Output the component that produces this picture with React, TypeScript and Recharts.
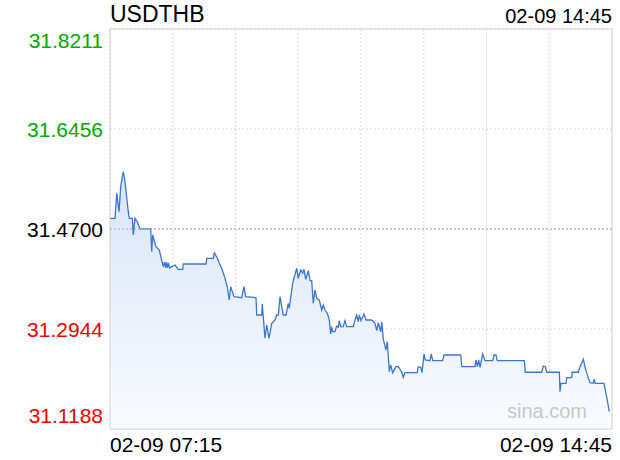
import { AreaChart, Area, XAxis, YAxis, CartesianGrid, ReferenceLine, ReferenceArea } from 'recharts'

// USDTHB 分時 (02-09 07:15 → 14:45)
const SYMBOL = 'USDTHB'
const START_LABEL = '02-09 07:15'
const END_LABEL = '02-09 14:45'
const PREV_CLOSE = 31.47

// minutes after 07:15
const minutes = [
  0, 4.5, 6.0, 8.1, 9.6, 11.9, 13.4, 16.4, 17.3, 20.0, 20.9, 22.4, 24.5, 26.9, 36.5, 37.4, 38.3, 41.2, 44.2, 46.3,
  47.8, 48.9, 49.8, 50.6, 51.5, 52.4, 53.3, 55.3, 58.3, 61.2, 65.2, 65.7, 86.1, 86.7, 92.6, 93.5, 95.6, 98.0, 100.1, 103.1,
  105.1, 106.9, 108.2, 111.2, 118.1, 120.1, 121.6, 130.9, 131.5, 136.0, 136.5, 137.4, 138.0, 138.9, 140.5, 142.5, 145.0, 147.9, 149.4, 150.9,
  152.4, 153.9, 155.3, 157.8, 159.8, 160.7, 163.8, 167.4, 168.8, 171.0, 172.7, 173.9, 175.4, 177.8, 179.3, 180.8, 182.2, 183.7, 185.3, 187.6,
  189.8, 191.2, 192.7, 194.8, 196.6, 197.8, 198.7, 199.6, 201.7, 203.2, 204.6, 205.5, 206.8, 209.1, 210.6, 212.2, 218.1, 219.6, 221.1, 222.6,
  223.5, 225.0, 227.7, 229.5, 234.6, 237.5, 239.1, 240.5, 242.7, 243.6, 245.0, 247.4, 248.6, 250.4, 251.6, 253.4, 256.4, 258.4, 261.5, 262.9,
  264.4, 275.4, 276.3, 278.5, 279.7, 281.5, 282.6, 286.8, 288.0, 289.3, 298.2, 299.4, 314.4, 315.3, 327.2, 328.1, 329.3, 330.5, 331.7, 334.1,
  336.1, 343.1, 344.2, 346.0, 347.2, 371.4, 372.3, 387.0, 388.4, 390.2, 391.5, 402.8, 403.4, 404.3, 408.8, 409.4, 413.9, 414.4, 419.8, 421.3,
  422.8, 424.3, 425.8, 427.3, 428.8, 430.3, 433.2, 433.9, 435.0, 442.8, 443.7, 445.2, 447.6,
]

const prices = [
  31.4887, 31.4887, 31.5332, 31.5003, 31.5442, 31.5706, 31.5530, 31.5003, 31.4887, 31.4887,
  31.4594, 31.4887, 31.4828, 31.4700, 31.4700, 31.4301, 31.4594, 31.4389, 31.4331, 31.4155,
  31.4038, 31.4120, 31.4015, 31.4120, 31.4015, 31.4103, 31.4015, 31.4038, 31.4067, 31.3992,
  31.3992, 31.4085, 31.4085, 31.4185, 31.4185, 31.4283, 31.4213, 31.4097, 31.4010, 31.3834,
  31.3686, 31.3453, 31.3686, 31.3511, 31.3493, 31.3686, 31.3511, 31.3493, 31.3190, 31.3190,
  31.3383, 31.3160, 31.3014, 31.2781, 31.3014, 31.2781, 31.3044, 31.3102, 31.3190, 31.3190,
  31.3511, 31.3335, 31.3190, 31.3190, 31.3395, 31.3307, 31.3760, 31.4010, 31.3834, 31.3980,
  31.3922, 31.3992, 31.3816, 31.3967, 31.3792, 31.3792, 31.3395, 31.3629, 31.3483, 31.3453,
  31.3277, 31.3365, 31.3277, 31.3219, 31.3102, 31.2856, 31.2984, 31.2896, 31.2896, 31.2996,
  31.2974, 31.3090, 31.2984, 31.2984, 31.3090, 31.2984, 31.2984, 31.3102, 31.3190, 31.3072,
  31.3190, 31.3090, 31.3207, 31.3102, 31.3102, 31.3044, 31.2914, 31.3054, 31.2896, 31.3072,
  31.2763, 31.2575, 31.2721, 31.2194, 31.2312, 31.2177, 31.2282, 31.2282, 31.2194, 31.2096,
  31.2177, 31.2177, 31.2282, 31.2271, 31.2177, 31.2505, 31.2400, 31.2387, 31.2505, 31.2387,
  31.2387, 31.2487, 31.2487, 31.2282, 31.2282, 31.2400, 31.2282, 31.2400, 31.2271, 31.2505,
  31.2387, 31.2387, 31.2487, 31.2487, 31.2387, 31.2387, 31.2184, 31.2184, 31.2294, 31.2282,
  31.2184, 31.2184, 31.1843, 31.1990, 31.1990, 31.2089, 31.2089, 31.2184, 31.2184, 31.2282,
  31.2342, 31.2412, 31.2271, 31.2177, 31.2078, 31.2001, 31.1990, 31.2061, 31.1990, 31.1990,
  31.1903, 31.1755, 31.1492,
]

const yTicks = [31.8211, 31.6456, 31.47, 31.2944, 31.1188]
const yTickLabels = ['31.8211', '31.6456', '31.4700', '31.2944', '31.1188']
const xTicks = [0, 56.25, 112.5, 168.75, 225, 281.25, 337.5, 393.75, 450]

const FONT = "'Liberation Sans', Arial, Helvetica, sans-serif"

const data = minutes.map((m, i) => ({ m, p: prices[i] }))

function YTick(props: any) {
  const { x, y, payload, index } = props
  const v = payload.value as number
  const color = v > PREV_CLOSE + 1e-6 ? '#00a800' : v < PREV_CLOSE - 1e-6 ? '#f20000' : '#000'
  // 上端は下へ、下端は上へずらす
  const dy = index === 0 ? 19 : index === yTicks.length - 1 ? -6 : 8
  return (
    <text x={x} y={y + dy} textAnchor="end" fill={color} fontSize={21} fontFamily={FONT}>
      {yTickLabels[index]}
    </text>
  )
}

function XTick(props: any) {
  const { x, y, index } = props
  if (index !== 0 && index !== xTicks.length - 1) return null
  const first = index === 0
  return (
    <text x={x} y={y + 23} textAnchor={first ? 'start' : 'end'} fill="#000" fontSize={21} fontFamily={FONT}>
      {first ? START_LABEL : END_LABEL}
    </text>
  )
}

export default function App() {
  return (
    <div style={{ position: 'absolute', left: 0, top: 0, width: 620, height: 460, background: '#fff', fontFamily: FONT }}>
      <AreaChart width={620} height={460} data={data} margin={{ top: 29, right: 8, left: 0, bottom: 0 }}>
        <defs>
          <linearGradient id="fillGrad" x1="0" y1="0" x2="0" y2="1">
            <stop offset="0%" stopColor="#d8e5f8" />
            <stop offset="100%" stopColor="#f9fbff" />
          </linearGradient>
        </defs>
        <CartesianGrid stroke="#d8d8d8" strokeDasharray="2 2" />
        <XAxis
          dataKey="m"
          type="number"
          domain={[0, 450]}
          ticks={xTicks}
          interval={0}
          height={31}
          axisLine={false}
          tickLine={false}
          tickSize={0}
          tickMargin={0}
          tick={<XTick />}
        />
        <YAxis
          type="number"
          domain={[31.1188, 31.8211]}
          ticks={yTicks}
          interval={0}
          width={110}
          axisLine={false}
          tickLine={false}
          tickSize={0}
          tickMargin={7}
          allowDataOverflow
          tick={<YTick />}
        />
        <ReferenceLine y={PREV_CLOSE} stroke="#a8a8a8" strokeDasharray="2 2" />
        <Area
          type="linear"
          dataKey="p"
          stroke="#3c76d3"
          strokeWidth={1.3}
          fill="url(#fillGrad)"
          fillOpacity={1}
          dot={false}
          activeDot={false}
          isAnimationActive={false}
        />
        <ReferenceArea x1={0} x2={450} y1={31.1188} y2={31.8211} fill="none" stroke="#d4d4d4" strokeOpacity={1} />
      </AreaChart>
      <div style={{ position: 'absolute', left: 110, top: 0, fontSize: 23, color: '#000', lineHeight: '28px' }}>{SYMBOL}</div>
      <div style={{ position: 'absolute', right: 8, top: 4, fontSize: 20, color: '#000', lineHeight: '24px' }}>{END_LABEL}</div>
      <div style={{ position: 'absolute', left: 507, top: 398, fontSize: 20, color: '#c8c8c8', lineHeight: '26px' }}>sina.com</div>
    </div>
  )
}
